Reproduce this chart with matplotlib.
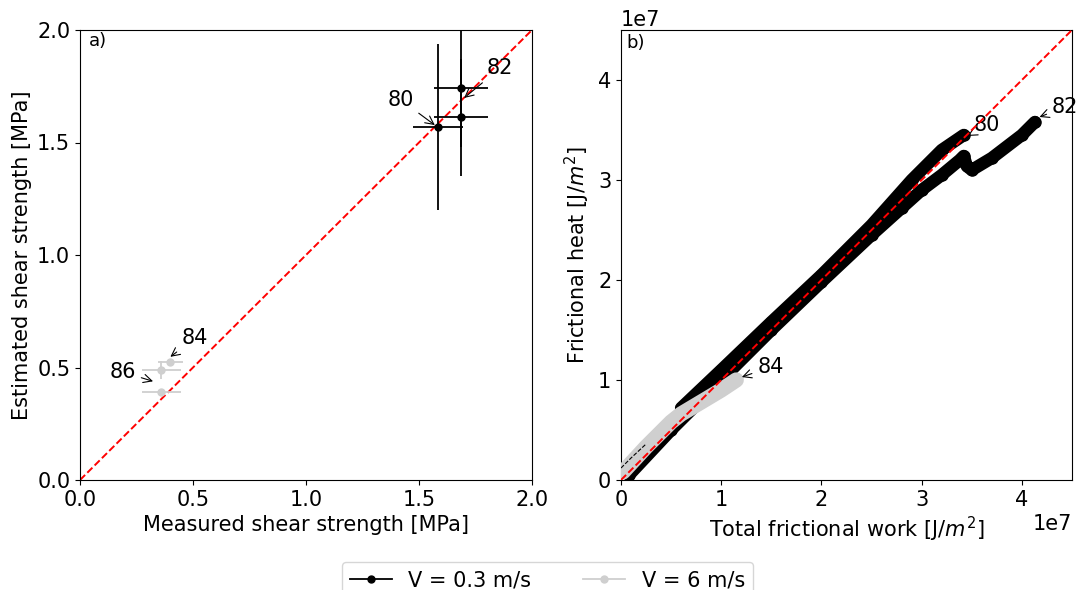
import matplotlib
matplotlib.use("Agg")
import matplotlib.pyplot as plt
from matplotlib.lines import Line2D
from matplotlib.ticker import MultipleLocator

plt.rcParams["font.size"] = 15

# panel a: shear strength estimates (MPa)
slow_measured = [1.584, 1.686, 1.686]
slow_estimated = [1.569, 1.742, 1.613]
slow_xerr = [0.11, 0.12, 0.12]
slow_yerr = [0.37, 0.26, 0.26]

fast_measured = [0.40, 0.36, 0.36]
fast_estimated = [0.525, 0.49, 0.392]
fast_xerr = [0.055, 0.085, 0.085]
fast_yerr = [0.01, 0.04, 0.01]

# panel b: frictional work vs heat (x 1e7 J/m2)
run80_work = [0.6, 1.0, 1.5, 2.0, 2.5, 2.9, 3.2, 3.42]
run80_heat = [0.72, 1.1, 1.58, 2.05, 2.55, 3.0, 3.3, 3.45]
run82_work = [0.08, 0.5, 1.0, 1.5, 2.0, 2.5, 2.8, 3.0, 3.2, 3.38, 3.42, 3.45, 3.5, 3.7, 4.0, 4.13]
run82_heat = [0.05, 0.5, 1.0, 1.5, 1.98, 2.45, 2.72, 2.9, 3.05, 3.2, 3.24, 3.14, 3.1, 3.22, 3.45, 3.58]
run84_work = [0.02, 0.25, 0.5, 0.6, 0.8, 1.0, 1.15]
run84_heat = [0.08, 0.33, 0.58, 0.66, 0.78, 0.9, 1.0]
run86_work = [0.0, 0.1, 0.25]
run86_heat = [0.12, 0.22, 0.36]

BLACK, GRAY = "black", "#cfcfcf"

fig = plt.figure(figsize=(10.84, 5.9), dpi=100)
ax1 = fig.add_axes([80/1084, 110/590, 452/1084, 450/590])
ax2 = fig.add_axes([621/1084, 110/590, 451/1084, 450/590])

# ---- panel a
ax1.plot([0, 2], [0, 2], "--", color="red", lw=1.4, zorder=1)
ax1.errorbar(slow_measured, slow_estimated, xerr=slow_xerr, yerr=slow_yerr,
             fmt="o", color=BLACK, ms=5, elinewidth=1.3, capsize=0, zorder=3)
ax1.errorbar(fast_measured, fast_estimated, xerr=fast_xerr, yerr=fast_yerr,
             fmt="o", color=GRAY, ms=5, elinewidth=1.3, capsize=0, zorder=3)
arrow = dict(arrowstyle="->", color="black", lw=0.8)
ax1.annotate("82", xy=(1.69, 1.69), xytext=(1.80, 1.83),
             va="center", arrowprops=arrow)
ax1.annotate("80", xy=(1.58, 1.57), xytext=(1.36, 1.69),
             va="center", arrowprops=arrow)
ax1.annotate("84", xy=(0.39, 0.54), xytext=(0.45, 0.63),
             va="center", arrowprops=arrow)
ax1.annotate("86", xy=(0.335, 0.435), xytext=(0.13, 0.48),
             va="center", arrowprops=arrow)
ax1.text(0.04, 1.95, "a)", fontsize=13, va="center")
ax1.set_xlim(0, 2); ax1.set_ylim(0, 2)
ax1.set_xticks([0, 0.5, 1.0, 1.5, 2.0]); ax1.set_yticks([0, 0.5, 1.0, 1.5, 2.0])
ax1.set_xlabel("Measured shear strength [MPa]")
ax1.set_ylabel("Estimated shear strength [MPa]")

# ---- panel b
s = 1e7
ax2.plot([0, 4.5 * s], [0, 4.5 * s], "--", color="red", lw=1.4, zorder=5)
for xs, ys in ((run80_work, run80_heat), (run82_work, run82_heat)):
    ax2.plot([v * s for v in xs], [v * s for v in ys], "-o", color=BLACK,
             lw=9, ms=8, solid_capstyle="round", solid_joinstyle="round", zorder=2)
ax2.plot([v * s for v in run84_work], [v * s for v in run84_heat], "-",
         color=GRAY, lw=11, solid_capstyle="round", solid_joinstyle="round", zorder=3)
ax2.plot([v * s for v in run86_work], [v * s for v in run86_heat], "--",
         color=BLACK, lw=0.8, zorder=4)
ax2.annotate("80", xy=(3.46 * s, 3.44 * s), xytext=(3.52 * s, 3.55 * s),
             va="center", arrowprops=arrow)
ax2.annotate("82", xy=(4.15 * s, 3.62 * s), xytext=(4.3 * s, 3.73 * s),
             va="center", arrowprops=arrow)
ax2.annotate("84", xy=(1.18 * s, 1.02 * s), xytext=(1.36 * s, 1.13 * s),
             va="center", arrowprops=arrow)
ax2.text(0.05 * s, 4.37 * s, "b)", fontsize=13, va="center")
ax2.set_xlim(0, 4.5 * s); ax2.set_ylim(0, 4.5 * s)
ax2.xaxis.set_major_locator(MultipleLocator(s))
ax2.yaxis.set_major_locator(MultipleLocator(s))
ax2.set_xlabel("Total frictional work [J/$m^2$]")
ax2.set_ylabel("Frictional heat [J/$m^2$]")

handles = [Line2D([], [], color=BLACK, marker="o", ms=5, lw=1.3),
           Line2D([], [], color=GRAY, marker="o", ms=5, lw=1.3)]
fig.legend(handles, ["V = 0.3 m/s", "V = 6 m/s"], loc="upper center",
           bbox_to_anchor=(0.505, 0.065), ncol=2, columnspacing=2.5)

fig.savefig("out.png", dpi=100)
